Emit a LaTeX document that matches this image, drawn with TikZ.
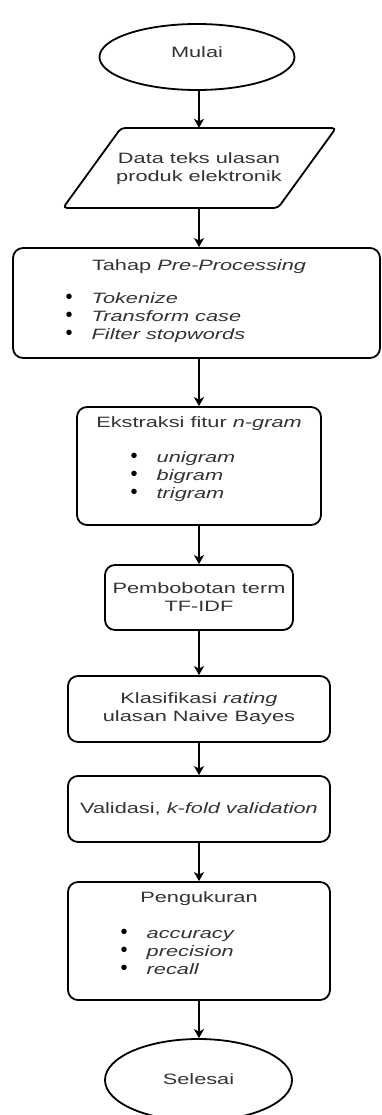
\documentclass[tikz,border=0pt]{standalone}
\usepackage{fontspec}
\setmainfont{Liberation Sans}[FakeStretch=1.45]
\newfontfamily\bulfont{Liberation Sans}
\usetikzlibrary{arrows.meta,shapes.geometric}
\definecolor{txt}{HTML}{333333}
\tikzset{
  box/.style={draw=black, line width=1.8pt, rounded corners=10pt, inner sep=0pt},
  term/.style={draw=black, line width=1.8pt, ellipse, inner sep=0pt},
  lbl/.style={text=txt, font=\fontsize{15}{18}\selectfont, inner sep=0pt, align=center},
  ttl/.style={text=txt, font=\fontsize{15}{18}\selectfont, inner sep=0pt, anchor=base},
  itm/.style={text=txt, font=\fontsize{15}{18}\selectfont, inner sep=0pt, anchor=base west},
  arr/.style={draw=black, line width=1.3pt, -{Stealth[length=9pt,width=10pt,inset=2.5pt]}},
}
\newcommand{\bul}{\makebox[26pt][l]{\color{black}\bulfont\fontsize{20}{18}\selectfont\textbullet}}
\begin{document}
\begin{tikzpicture}[x=1pt,y=-1pt]
\fill[white] (0,0) rectangle (381,1115);
\useasboundingbox (0,0) rectangle (381,1115);
\coordinate (ax) at (199,0);

% Mulai
\node[term, minimum width=195pt, minimum height=66pt] (start) at (197,57) {};
\node[lbl] (startt) at (197,52) {Mulai};

% Data
\node[inner sep=0pt, minimum width=273pt, minimum height=80pt] (data) at (199.5,168) {};
\draw[line width=1.8pt, rounded corners=4pt] (121,128) -- (336,128) -- (278,208) -- (63,208) -- cycle;
\node[lbl] (datat) at (199,169) {Data teks ulasan\\produk elektronik};

% Pre-processing
\node[box, minimum width=367pt, minimum height=110pt] (pp) at (196.5,303) {};
\node[ttl] (ppt) at (199,270.5) {Tahap \textit{Pre-Processing}};
\node[itm] (pp1) at (65.5,303.5) {\bul\textit{Tokenize}};
\node[itm] (pp2) at (65.5,321.5) {\bul\textit{Transform case}};
\node[itm] (pp3) at (65.5,339.5) {\bul\textit{Filter stopwords}};

% n-gram
\node[box, minimum width=244pt, minimum height=118pt] (ng) at (199,466) {};
\node[ttl] (ngt) at (199,427.5) {Ekstraksi fitur \textit{n-gram}};
\node[itm] (ng1) at (130.5,462.5) {\bul\textit{unigram}};
\node[itm] (ng2) at (130.5,480.5) {\bul\textit{bigram}};
\node[itm] (ng3) at (130.5,498.5) {\bul\textit{trigram}};

% TF-IDF
\node[box, minimum width=188pt, minimum height=65pt, lbl, draw=black] (tf) at (199,597.5) {Pembobotan term\\TF-IDF};

% Klasifikasi
\node[box, minimum width=262pt, minimum height=66pt, lbl, draw=black] (kl) at (199,709) {Klasifikasi \textit{rating}\\ulasan Naive Bayes};

% Validasi
\node[box, minimum width=262pt, minimum height=66pt, lbl, draw=black] (va) at (199,809) {Validasi, \textit{k-fold validation}};

% Pengukuran
\node[box, minimum width=262pt, minimum height=118pt] (pg) at (199,941) {};
\node[ttl] (pgt) at (199,902.5) {Pengukuran};
\node[itm] (pg1) at (120.5,938.5) {\bul\textit{accuracy}};
\node[itm] (pg2) at (120.5,956.5) {\bul\textit{precision}};
\node[itm] (pg3) at (120.5,974.5) {\bul\textit{recall}};

% Selesai
\node[term, minimum width=187pt, minimum height=82pt] (end) at (198.5,1080) {};
\node[lbl] (endt) at (198.5,1079) {Selesai};

% arrows
\draw[arr] (start.south -| ax) -- (data.north -| ax);
\draw[arr] (data.south -| ax) -- (pp.north -| ax);
\draw[arr] (pp.south -| ax) -- (ng.north -| ax);
\draw[arr] (ng.south -| ax) -- (tf.north -| ax);
\draw[arr] (tf.south -| ax) -- (kl.north -| ax);
\draw[arr] (kl.south -| ax) -- (va.north -| ax);
\draw[arr] (va.south -| ax) -- (pg.north -| ax);
\draw[arr] (pg.south -| ax) -- (end.north -| ax);
\end{tikzpicture}
\end{document}
